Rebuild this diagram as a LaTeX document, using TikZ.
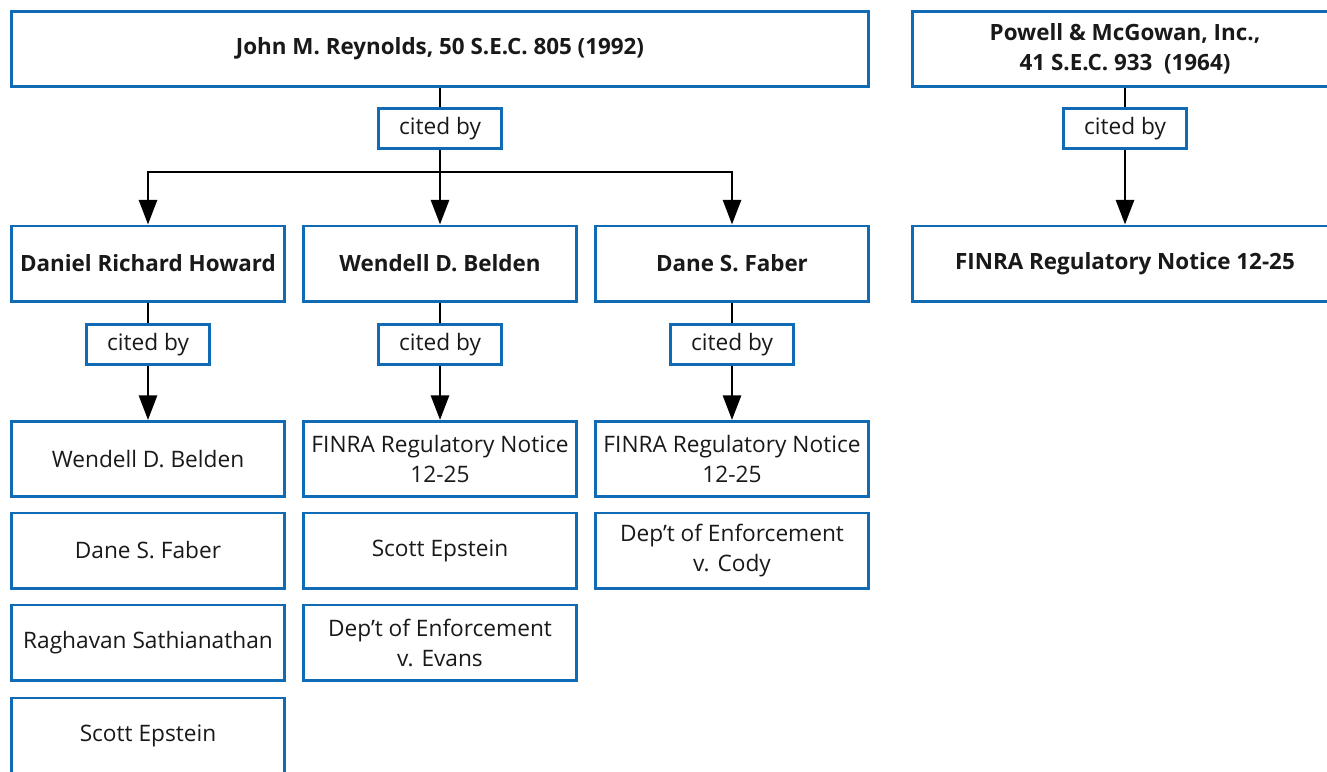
\documentclass[tikz,border=0pt]{standalone}
\usepackage{fontspec}
\setmainfont{Open Sans}
\usetikzlibrary{arrows.meta}
\definecolor{boxblue}{RGB}{16,106,180}
\definecolor{ink}{RGB}{25,25,25}
\tikzset{
  base/.style={draw=boxblue, line width=2.2pt, fill=white, inner sep=0pt, align=center, text=ink,
    font=\fontsize{17}{22.5}\selectfont},
  casebox/.style={base, minimum width=204.8pt, minimum height=56.3pt},
  headbox/.style={casebox, font=\fontsize{16.8}{22.5}\selectfont\bfseries},
  citebox/.style={base, minimum width=92.3pt, minimum height=30.1pt},
  link/.style={draw=black, line width=2.2pt},
  arrowlink/.style={link, -{Triangle[length=18.5pt,width=13.5pt]}}
}
\begin{document}
\begin{tikzpicture}[x=0.75pt,y=-0.75pt]
\useasboundingbox (0,0) rectangle (1327,771);
\fill[white] (0,0) rectangle (1327,771);

% top level
\node[headbox, minimum width=642.8pt] (rey) at (440,49) {John M. Reynolds, 50 S.E.C. 805 (1992)};
\node[headbox, minimum width=318.8pt] (pow) at (1125,49) {Powell \& McGowan, Inc.,\\41 S.E.C. 933\ \ (1964)};
\node[citebox] (c0) at (440,128.5) {cited by};
\node[citebox] (cp) at (1125,128.5) {cited by};
\coordinate (j) at (440,172);

% second level
\node[headbox] (how) at (148,263.5) {Daniel Richard Howard};
\node[headbox] (bel) at (440,263.5) {Wendell D. Belden};
\node[headbox] (fab) at (732,263.5) {Dane S. Faber};
\node[headbox, minimum width=318.8pt] (finra) at (1125,263.5) {FINRA Regulatory Notice 12-25};

\node[citebox] (c1) at (148,344.5) {cited by};
\node[citebox] (c2) at (440,344.5) {cited by};
\node[citebox] (c3) at (732,344.5) {cited by};

% third level
\node[casebox] (h1) at (148,459) {Wendell D. Belden};
\node[casebox] (h2) at (148,550.5) {Dane S. Faber};
\node[casebox] (h3) at (148,642.5) {Raghavan Sathianathan};
\node[casebox] (h4) at (148,735.5) {Scott Epstein};

\node[casebox] (b1) at (440,459) {FINRA Regulatory Notice\\12-25};
\node[casebox] (b2) at (440,550.5) {Scott Epstein};
\node[casebox] (b3) at (440,642.5) {Dep’t of Enforcement\\v. Evans};

\node[casebox] (f1) at (732,459) {FINRA Regulatory Notice\\12-25};
\node[casebox] (f2) at (732,550.5) {Dep’t of Enforcement\\v. Cody};

% connectors
\draw[link] (rey) -- (c0);
\draw[arrowlink] (c0) -- (bel);
\draw[arrowlink] (j) -| (how);
\draw[arrowlink] (j) -| (fab);
\draw[link] (pow) -- (cp);
\draw[arrowlink] (cp) -- (finra);
\draw[link] (how) -- (c1);
\draw[arrowlink] (c1) -- (h1);
\draw[link] (bel) -- (c2);
\draw[arrowlink] (c2) -- (b1);
\draw[link] (fab) -- (c3);
\draw[arrowlink] (c3) -- (f1);
\end{tikzpicture}
\end{document}
